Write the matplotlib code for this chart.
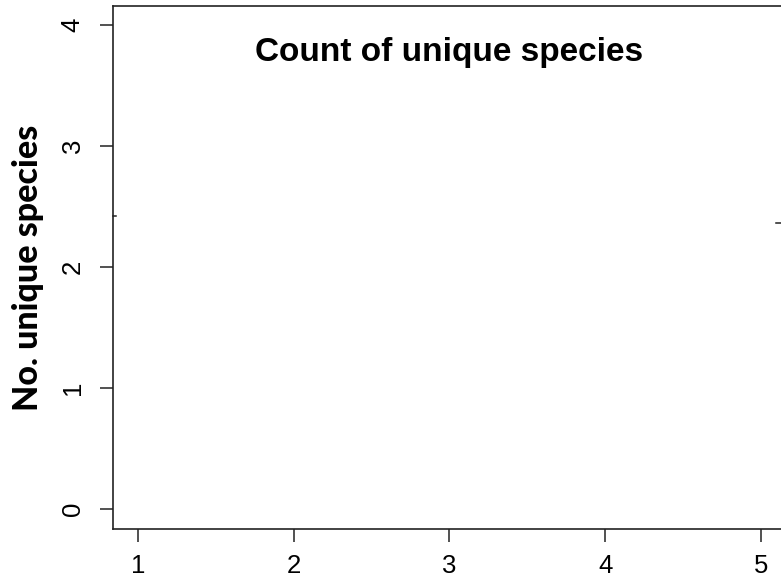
import matplotlib
matplotlib.use("Agg")
from matplotlib import pyplot as plt

# axis setup for an empty count plot
x_ticks = [1, 2, 3, 4, 5]
y_ticks = [0, 1, 2, 3, 4]
title = "Count of unique species"
y_label = "No. unique species"

# stray segment ends left at the plot edges
left_mark_y = 2.42
right_mark_y = 2.36

fig = plt.figure(figsize=(7.81, 5.81), dpi=100)
ax = fig.add_axes([113 / 781, 1 - 528.5 / 581, (786 - 113) / 781, (528.5 - 5.5) / 581])
ax.set_xlim(0.84, 5.16)
ax.set_ylim(-0.16, 4.16)

for s in ax.spines.values():
    s.set_color("#222222")
    s.set_linewidth(1.2)

ax.set_xticks(x_ticks)
ax.set_yticks(y_ticks)
ax.set_xticklabels([str(v) for v in x_ticks], fontsize=18.5, family="Liberation Sans")
ax.set_yticklabels([str(v) for v in y_ticks], fontsize=18.5, family="Liberation Sans",
                   rotation=90, va="center")
ax.tick_params(axis="both", direction="out", length=9.5, width=1.1, color="#222222")
ax.tick_params(axis="x", pad=9)
ax.tick_params(axis="y", pad=11)

ax.text(0.5, 0.91, title, transform=ax.transAxes, ha="center", va="center",
        fontsize=24, fontweight="bold", family="Liberation Sans")
ax.set_ylabel(y_label, fontsize=24.5, fontweight="black", family="Lato")
ax.yaxis.set_label_coords(-0.103, 0.498)

ax.plot([0.84, 0.86], [left_mark_y, left_mark_y], color="#222222", lw=1.1, clip_on=False)
ax.plot([5.095, 5.16], [right_mark_y, right_mark_y], color="#222222", lw=1.1, clip_on=False)

fig.savefig("out.png", dpi=100)
